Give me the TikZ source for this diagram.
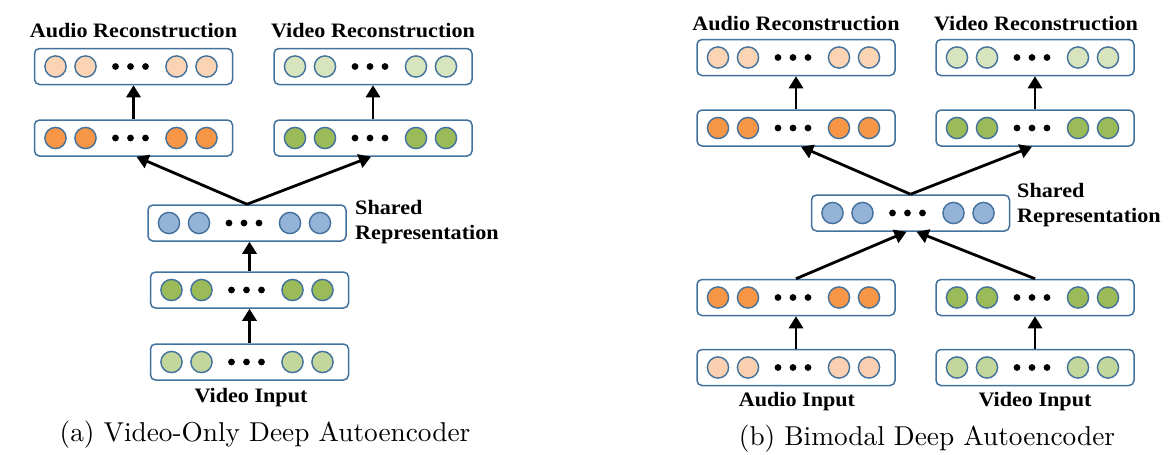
\documentclass[tikz,border=0pt]{standalone}
\usepackage{fontspec}
\usetikzlibrary{arrows.meta}
\newfontfamily\labfont{Liberation Serif}[FakeStretch=1.08]
\newfontfamily\capfont{lmroman10-regular}[Extension=.otf]
\definecolor{boxline}{HTML}{41719C}
\definecolor{recorange}{HTML}{FBD4B4}
\definecolor{hidorange}{HTML}{F79646}
\definecolor{recgreen}{HTML}{D7E4BD}
\definecolor{hidgreen}{HTML}{9BBB59}
\definecolor{ingreen}{HTML}{C3D69B}
\definecolor{sharedblue}{HTML}{95B3D7}
\definecolor{inorange}{HTML}{FAD0B1}
\tikzset{
  layerbox/.style={draw=boxline, line width=1.5pt, rounded corners=5pt,
    minimum width=198pt, minimum height=36pt, inner sep=0pt, fill=white},
  neuron/.style={draw=boxline, line width=1.4pt},
  flow/.style={line width=2.8pt, -{Triangle[length=12pt,width=14pt]}},
  lab/.style={font=\labfont\bfseries\fontsize{20.5}{24}\selectfont, inner sep=0pt},
  labl/.style={lab, anchor=west, align=left},
  capt/.style={font=\capfont\fontsize{27.3}{32}\selectfont, inner sep=0pt}
}
\newcommand\mklayer[4]{%
  \node[layerbox] (#1) at (#2,#3) {};
  \foreach \dx in {-78,-48,43,73}
    \draw[neuron, fill=#4] ([xshift=\dx pt]#1.center) circle[radius=10.6];
  \foreach \dx in {-18,-3,12}
    \fill ([xshift=\dx pt]#1.center) circle[radius=3.4];
}
\begin{document}
\begin{tikzpicture}[x=1pt,y=-1pt]
\useasboundingbox (0,0) rectangle (1170,455);
% ---------- (a) ----------
\mklayer{ArecA}{133.5}{66.5}{recorange}
\mklayer{AhidA}{133.5}{138}{hidorange}
\mklayer{VrecA}{373}{66.5}{recgreen}
\mklayer{VhidA}{373}{138}{hidgreen}
\mklayer{ShA}{247}{223}{sharedblue}
\mklayer{GhidA}{249.5}{290}{hidgreen}
\mklayer{VinA}{249.5}{362}{ingreen}
\node[lab] (tArecA) at (133.5,31) {Audio Reconstruction};
\node[lab] (tVrecA) at (373,31) {Video Reconstruction};
\node[labl] (tShA) at (355,222) {Shared\\[1pt]Representation};
\node[lab] (tVinA) at (251,398) {Video Input};
\node[capt] (capA) at (265,435) {(a) Video-Only Deep Autoencoder};
\draw[flow] (AhidA.north) -- (ArecA.south);
\draw[flow] (VhidA.north) -- (VrecA.south);
\draw[flow] (ShA.north) -- ([xshift=3pt]AhidA.south);
\draw[flow] (ShA.north) -- ([xshift=-2pt]VhidA.south);
\draw[flow] (GhidA.north) -- (ShA.south -| GhidA.north);
\draw[flow] (VinA.north) -- (GhidA.south);
% ---------- (b) ----------
\mklayer{ArecB}{796}{57.5}{recorange}
\mklayer{AhidB}{796}{128}{hidorange}
\mklayer{VrecB}{1035}{57.5}{recgreen}
\mklayer{VhidB}{1035}{128}{hidgreen}
\mklayer{ShB}{910.5}{213}{sharedblue}
\mklayer{Ahid2B}{796}{297.5}{hidorange}
\mklayer{Vhid2B}{1035}{297.5}{hidgreen}
\mklayer{AinB}{796}{367.5}{inorange}
\mklayer{VinB}{1035}{367.5}{ingreen}
\node[lab] (tArecB) at (796,24) {Audio Reconstruction};
\node[lab] (tVrecB) at (1036,24) {Video Reconstruction};
\node[labl] (tShB) at (1017,205.5) {Shared\\[1pt]Representation};
\node[lab] (tAinB) at (797,402) {Audio Input};
\node[lab] (tVinB) at (1035,402) {Video Input};
\node[capt] (capB) at (927,439) {(b) Bimodal Deep Autoencoder};
\coordinate (sbL) at ([xshift=-4pt]ShB.south);
\coordinate (sbR) at ([xshift=6pt]ShB.south);
\draw[flow] (AhidB.north) -- (ArecB.south);
\draw[flow] (VhidB.north) -- (VrecB.south);
\draw[flow] (ShB.north) -- ([xshift=5pt]AhidB.south);
\draw[flow] (ShB.north) -- ([xshift=-3pt]VhidB.south);
\draw[flow] (Ahid2B.north) -- (sbL);
\draw[flow] (Vhid2B.north) -- (sbR);
\draw[flow] (AinB.north) -- (Ahid2B.south);
\draw[flow] (VinB.north) -- (Vhid2B.south);
\end{tikzpicture}
\end{document}
